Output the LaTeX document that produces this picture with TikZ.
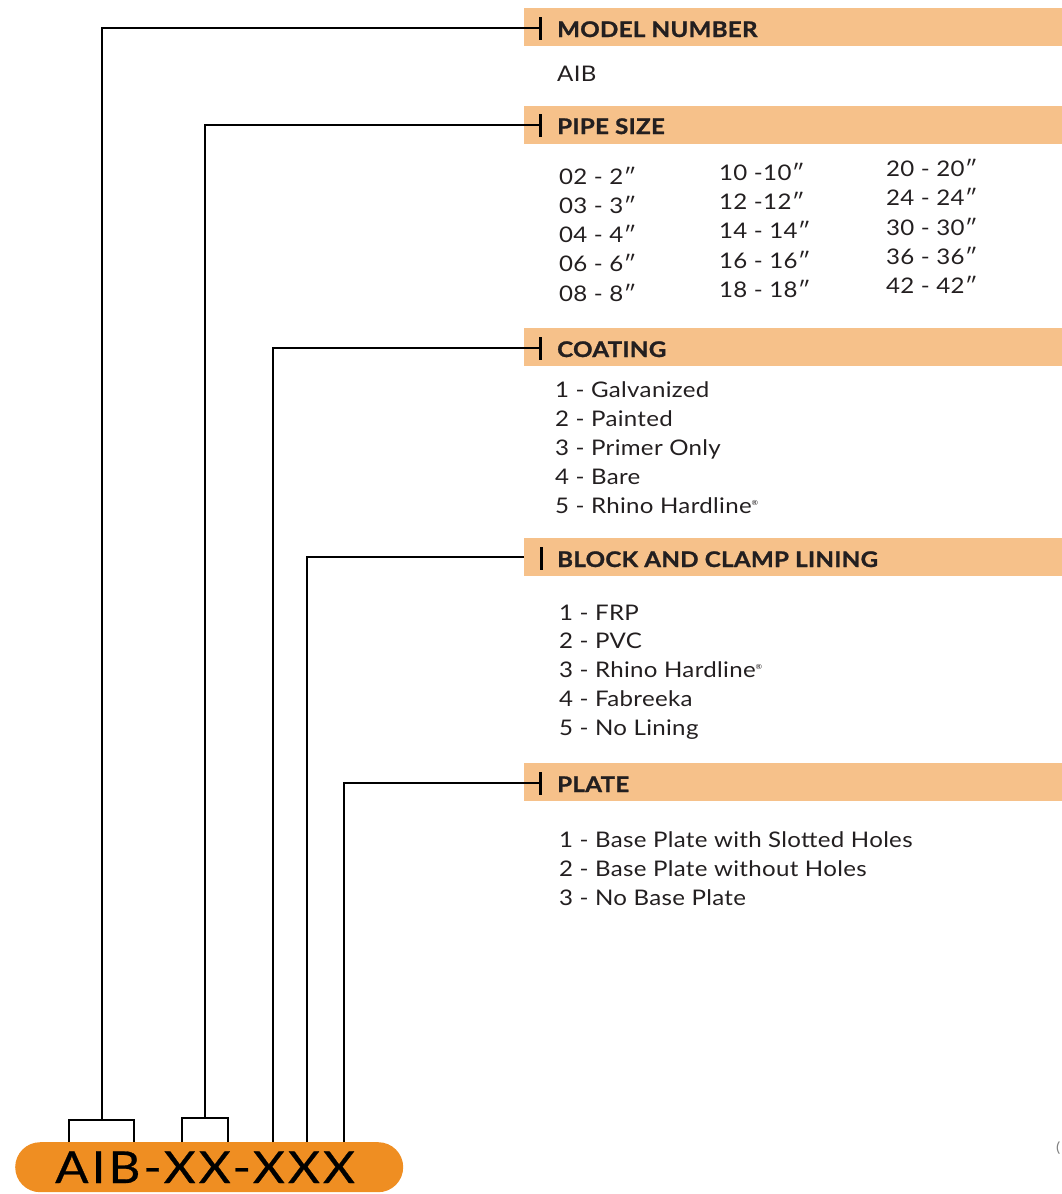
\documentclass[tikz,border=0pt]{standalone}
\usepackage{fontspec}
\setmainfont{Lato}[FakeStretch=1.12,LetterSpace=1.5,BoldFeatures={FakeBold=1.2}]
\newfontfamily\codefont{Lato}[FakeStretch=1.12,LetterSpace=7,FakeBold=0.6]
\definecolor{barc}{HTML}{F6C18A}
\definecolor{pillc}{HTML}{EF8E22}
\definecolor{txt}{HTML}{231F20}
\begin{document}
\begin{tikzpicture}[x=1pt,y=-1pt,
  bar/.style={fill=barc,draw=none,minimum height=38pt,minimum width=538pt,anchor=north west,inner sep=0pt},
  hdr/.style={anchor=base west,font=\fontsize{21.5}{24}\selectfont\bfseries,text=txt,inner sep=0pt},
  item/.style={anchor=base west,font=\fontsize{21.5}{24}\selectfont,text=txt,inner sep=0pt},
  conn/.style={line width=2pt,black},
  tickm/.style={line width=3pt,black}]
\useasboundingbox (0,0) rectangle (1062,1194);
% header bars
\node[bar] (b1) at (524,8) {};
\node[bar] (b2) at (524,106) {};
\node[bar] (b3) at (524,328) {};
\node[bar] (b4) at (524,538) {};
\node[bar] (b5) at (524,763) {};
% ticks
\coordinate (t1) at (540,28);
\coordinate (t2) at (540,125);
\coordinate (t3) at (540,348);
\coordinate (t4) at (541,558);
\coordinate (t5) at (540,783);
\foreach \t in {t1,t2,t3,t4,t5}
  \draw[tickm] ([yshift=-11.5pt]\t) -- ([yshift=11.5pt]\t);
% headers
\node[hdr] (h1) at (557,37) {MODEL NUMBER};
\node[hdr] (h2) at (557,134) {PIPE SIZE};
\node[hdr] (h3) at (557,357) {COATING};
\node[hdr] (h4) at (557,567) {BLOCK AND CLAMP LINING};
\node[hdr] (h5) at (557,792) {PLATE};
% items
\node[item] (m1) at (557,81) {AIB};
\node[item] (p11) at (559,184) {02 - 2″};
\node[item] (p12) at (559,213) {03 - 3″};
\node[item] (p13) at (559,242) {04 - 4″};
\node[item] (p14) at (559,271) {06 - 6″};
\node[item] (p15) at (559,301) {08 - 8″};
\node[item] (p21) at (719,180) {10 -10″};
\node[item] (p22) at (719,209) {12 -12″};
\node[item] (p23) at (719,238) {14 - 14″};
\node[item] (p24) at (719,268) {16 - 16″};
\node[item] (p25) at (719,297) {18 - 18″};
\node[item] (p31) at (886,176) {20 - 20″};
\node[item] (p32) at (886,205) {24 - 24″};
\node[item] (p33) at (886,235) {30 - 30″};
\node[item] (p34) at (886,264) {36 - 36″};
\node[item] (p35) at (886,293) {42 - 42″};
\node[item] (c1) at (555,397) {1 - Galvanized};
\node[item] (c2) at (555,426) {2 - Painted};
\node[item] (c3) at (555,455) {3 - Primer Only};
\node[item] (c4) at (555,484) {4 - Bare};
\node[item] (c5) at (555,513) {5 - Rhino Hardline\textsuperscript{\scriptsize®}};
\node[item] (l1) at (559,620) {1 - FRP};
\node[item] (l2) at (559,648) {2 - PVC};
\node[item] (l3) at (559,677) {3 - Rhino Hardline\textsuperscript{\scriptsize®}};
\node[item] (l4) at (559,706) {4 - Fabreeka};
\node[item] (l5) at (559,735) {5 - No Lining};
\node[item] (q1) at (559,847) {1 - Base Plate with Slotted Holes};
\node[item] (q2) at (559,876) {2 - Base Plate without Holes};
\node[item] (q3) at (559,905) {3 - No Base Plate};
% code pill
\node[fill=pillc,rounded corners=25pt,minimum width=388pt,minimum height=50pt,anchor=north west,inner sep=0pt] (pill) at (15,1142) {};
\node[anchor=base west,inner sep=0pt,font=\codefont\fontsize{44}{48}\selectfont,text=black] (code) at (55,1183) {AIB-XX-XXX};
% brackets
\draw[conn] (69,1142) |- (134,1120) -- (134,1142);
\draw[conn] (182,1142) |- (228,1118) -- (228,1142);
\coordinate (s1) at (102,1120);
\coordinate (s2) at (205,1118);
\coordinate (s3) at (273,1142);
\coordinate (s4) at (307,1142);
\coordinate (s5) at (344,1142);
% connectors
\draw[conn] (s1) |- (t1);
\draw[conn] (s2) |- (t2);
\draw[conn] (s3) |- (t3);
\draw[conn] (s4) |- (b4.west);
\draw[conn] (s5) |- (t5);
% cut-off mark at right edge
\node[anchor=west,inner sep=0pt,font=\fontsize{14}{14}\selectfont,text=gray] (cut) at (1056,1148) {(};
\end{tikzpicture}
\end{document}
